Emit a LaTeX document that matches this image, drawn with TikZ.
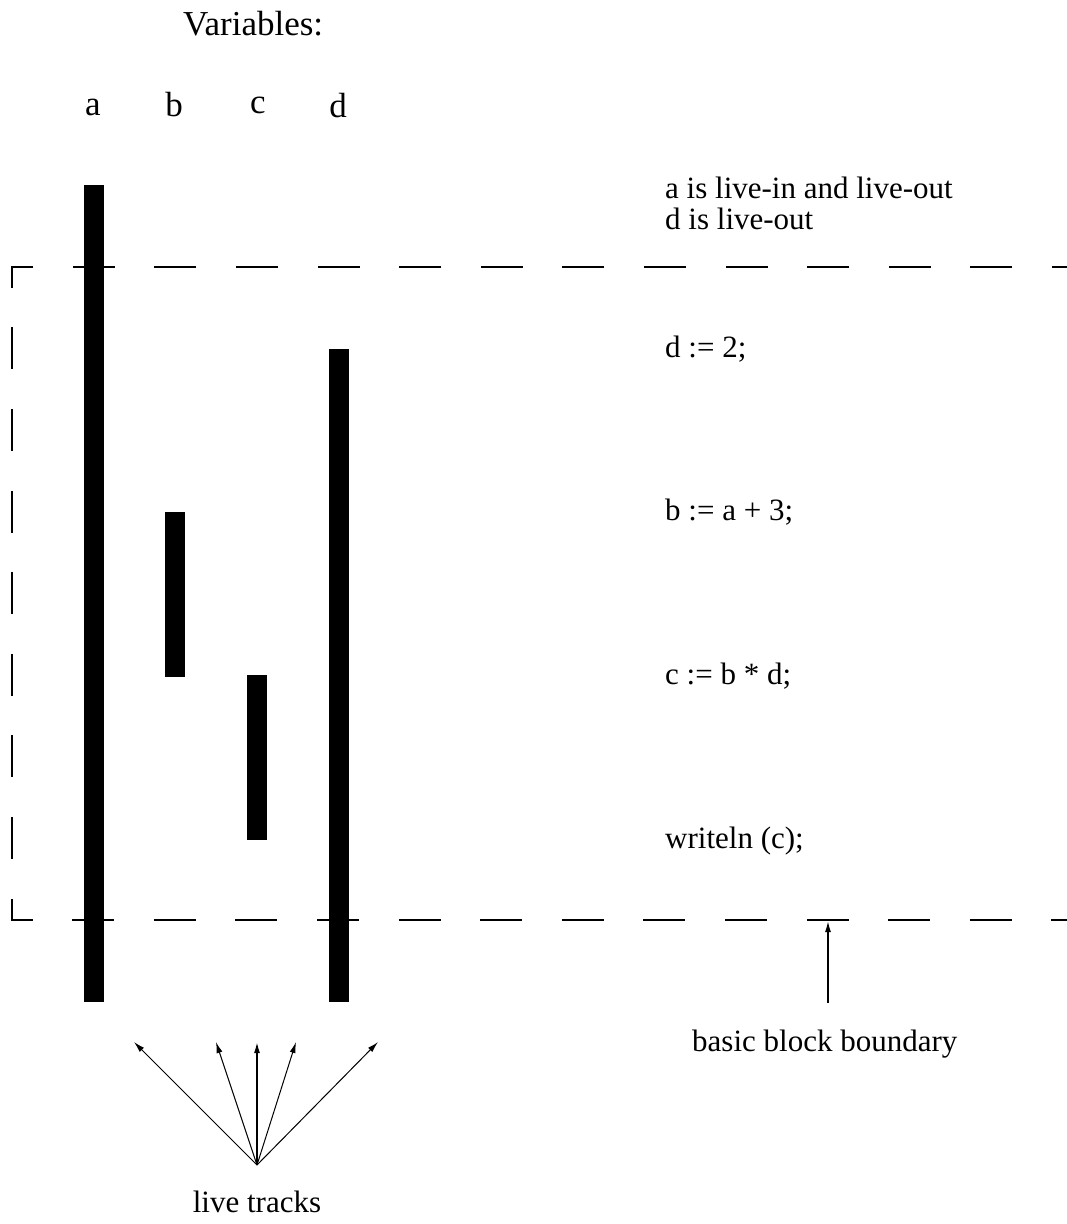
\documentclass[tikz,border=0pt]{standalone}
\usepackage{fontspec}
\setmainfont{Liberation Serif}
\usetikzlibrary{arrows.meta}
\begin{document}
\begin{tikzpicture}[x=1pt,y=-1pt,
  txt/.style={anchor=base west,inner sep=0pt,font=\fontsize{31}{37}\selectfont},
  big/.style={anchor=base,inner sep=0pt,font=\fontsize{35}{42}\selectfont},
  bar/.style={fill=black,draw=none,inner sep=0pt,minimum width=20pt,anchor=north},
  boundary/.style={line width=2.3pt,dash pattern=on 42pt off 39.6pt,dash phase=27pt},
  track/.style={line width=1pt,-{Latex[length=11pt,width=6pt]}}]
\useasboundingbox (0,0) rectangle (1067,1224);
% headings
\node[big,anchor=base west] (vars) at (183,35) {Variables:};
\node[big] (va) at (93,115) {a};
\node[big] (vb) at (174,116) {b};
\node[big] (vc) at (258,113) {c};
\node[big] (vd) at (338,117) {d};
% live ranges
\node[bar,minimum height=817pt] (ra) at (94,185) {};
\node[bar,minimum height=165pt] (rb) at (175,512) {};
\node[bar,minimum height=165pt] (rc) at (257,675) {};
\node[bar,minimum height=653pt] (rd) at (339,349) {};
% basic block boundary
\draw[boundary] (1067,267) -- (12,267) -- (12,920) -- (1067,920);
% texts
\node[txt] (t1) at (665,198) {a is live-in and live-out};
\node[txt] (t2) at (665,229) {d is live-out};
\node[txt] (s1) at (665,357) {d := 2;};
\node[txt] (s2) at (665,520) {b := a + 3;};
\node[txt] (s3) at (665,684) {c := b * d;};
\node[txt] (s4) at (665,848) {writeln (c);};
\node[txt] (bbl) at (692,1051) {basic block boundary};
\node[txt,anchor=base] (ltl) at (257,1212) {live tracks};
% arrows
\coordinate (bbfrom) at (828,1003);
\coordinate (bbto) at (828,921);
\draw[line width=1.5pt,-{Latex[length=11pt,width=6pt]}] (bbfrom) -- (bbto);
\coordinate (lt) at (257,1165);
\coordinate (l1) at (134,1042);
\coordinate (l2) at (216,1042);
\coordinate (l3) at (257,1042);
\coordinate (l4) at (296,1042);
\coordinate (l5) at (378,1042);
\draw[track] (lt) -- (l1);
\draw[track] (lt) -- (l2);
\draw[track,line width=1.6pt] (lt) -- (l3);
\draw[track] (lt) -- (l4);
\draw[track] (lt) -- (l5);
\end{tikzpicture}
\end{document}
